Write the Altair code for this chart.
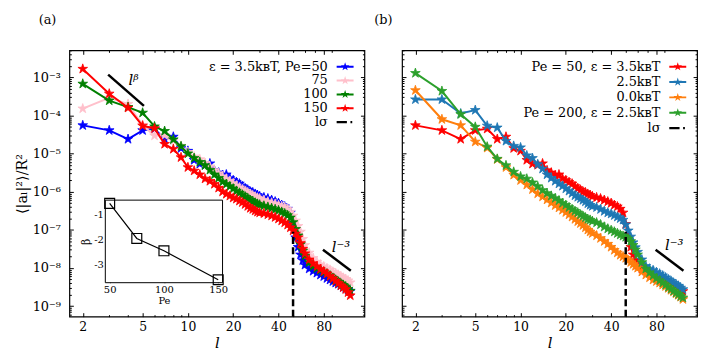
import altair as alt
import pandas as pd

FONT = "DejaVu Serif"

# ---------------- data (log10 of <|a_l|^2>/R^2) ----------------
L = [2, 3, 4, 5, 6, 7, 8, 9, 10, 11, 12, 13, 14, 15, 16, 17, 18, 19, 20, 21, 22, 23, 24, 25, 26, 27, 28, 29, 30,
     32, 34, 36, 38, 40, 42, 44, 46, 48, 50, 52, 54, 56, 58, 60,
     64, 68, 72, 76, 80, 84, 88, 92, 96, 100, 104, 108, 112, 116, 120]

PE50_E35 = [-4.26, -4.39, -4.62, -4.39, -4.35, -4.62, -4.56, -4.86, -4.93, -5.17, -5.27, -5.30, -5.26, -5.44, -5.50,
            -5.57, -5.55, -5.65, -5.70, -5.75, -5.79, -5.86, -5.91, -5.95, -6.00, -6.02, -6.06, -6.09, -6.12,
            -6.15, -6.18, -6.22, -6.26, -6.30, -6.35, -6.39, -6.45, -6.55, -6.85, -7.20, -7.45, -7.65, -7.80, -7.92,
            -8.02, -8.08, -8.13, -8.18, -8.22, -8.27, -8.31, -8.35, -8.39, -8.42, -8.46, -8.50, -8.53, -8.57, -8.61]
PE75_E35 = [-3.82, -3.54, -3.70, -4.25, -4.53, -4.52, -4.66, -4.80, -4.96, -5.08, -5.15, -5.25, -5.34, -5.44, -5.52,
            -5.60, -5.66, -5.72, -5.78, -5.84, -5.89, -5.94, -5.98, -6.02, -6.06, -6.10, -6.13, -6.16, -6.18,
            -6.22, -6.26, -6.29, -6.32, -6.35, -6.38, -6.41, -6.46, -6.53, -6.63, -6.76, -6.90, -7.05, -7.24, -7.40,
            -7.60, -7.74, -7.84, -7.91, -7.96, -8.01, -8.05, -8.10, -8.14, -8.18, -8.22, -8.26, -8.29, -8.33, -8.38]
PE100_E35 = [-3.17, -3.61, -3.78, -3.93, -4.29, -4.41, -4.63, -4.81, -5.00, -5.12, -5.22, -5.31, -5.43, -5.55, -5.64,
             -5.74, -5.80, -5.86, -5.92, -5.98, -6.03, -6.08, -6.13, -6.17, -6.22, -6.25, -6.29, -6.32, -6.34,
             -6.37, -6.40, -6.43, -6.46, -6.49, -6.53, -6.57, -6.62, -6.68, -6.80, -6.98, -7.15, -7.38, -7.55, -7.68,
             -7.85, -7.95, -8.01, -8.06, -8.11, -8.15, -8.20, -8.26, -8.31, -8.36, -8.41, -8.45, -8.49, -8.55, -8.60]
PE150_E35 = [-2.78, -3.43, -3.80, -4.27, -4.34, -4.75, -4.88, -5.10, -5.36, -5.45, -5.55, -5.66, -5.72, -5.80, -5.90,
             -6.00, -6.06, -6.11, -6.16, -6.19, -6.24, -6.28, -6.33, -6.38, -6.43, -6.46, -6.50, -6.53, -6.55,
             -6.57, -6.60, -6.63, -6.67, -6.71, -6.76, -6.81, -6.87, -6.94, -7.02, -7.10, -7.20, -7.35, -7.50, -7.62,
             -7.78, -7.88, -7.96, -8.03, -8.09, -8.15, -8.22, -8.28, -8.34, -8.40, -8.46, -8.51, -8.56, -8.64, -8.72]
PE50_E25 = [-3.58, -3.58, -3.95, -3.86, -4.27, -4.32, -4.67, -4.80, -4.84, -5.05, -5.12, -5.28, -5.40, -5.55, -5.64,
            -5.72, -5.79, -5.85, -5.92, -5.98, -6.04, -6.10, -6.14, -6.18, -6.22, -6.26, -6.31, -6.35, -6.38,
            -6.41, -6.46, -6.51, -6.55, -6.58, -6.62, -6.66, -6.70, -6.74, -6.86, -7.02, -7.18, -7.33, -7.46, -7.58,
            -7.78, -7.95, -8.02, -8.06, -8.11, -8.15, -8.20, -8.25, -8.30, -8.34, -8.39, -8.43, -8.47, -8.52, -8.56]
PE50_E00 = [-3.34, -4.10, -4.26, -4.69, -4.85, -5.15, -5.36, -5.56, -5.70, -5.82, -5.94, -6.05, -6.13, -6.21, -6.29,
            -6.36, -6.42, -6.48, -6.54, -6.60, -6.66, -6.72, -6.78, -6.83, -6.88, -6.94, -7.00, -7.05, -7.09,
            -7.15, -7.22, -7.30, -7.37, -7.45, -7.53, -7.60, -7.66, -7.70, -7.74, -7.80, -7.85, -7.90, -7.95, -8.00,
            -8.10, -8.18, -8.25, -8.31, -8.35, -8.39, -8.44, -8.48, -8.53, -8.58, -8.62, -8.67, -8.71, -8.76, -8.82]
PE200_E25 = [-2.89, -3.36, -3.97, -4.30, -4.82, -5.14, -5.31, -5.48, -5.60, -5.66, -5.76, -5.86, -5.96, -6.04, -6.11,
             -6.17, -6.23, -6.30, -6.35, -6.41, -6.46, -6.51, -6.55, -6.60, -6.64, -6.68, -6.72, -6.74, -6.77,
             -6.81, -6.86, -6.92, -6.97, -7.01, -7.05, -7.09, -7.13, -7.16, -7.19, -7.24, -7.30, -7.40, -7.52, -7.65,
             -7.85, -8.02, -8.12, -8.20, -8.27, -8.33, -8.39, -8.44, -8.50, -8.55, -8.60, -8.65, -8.69, -8.74, -8.78]

INSET_PE = [50, 75, 100, 150]
INSET_BETA = [-0.53, -1.95, -2.45, -3.62]

L_SIGMA = 50
L_SIGMA_TOP = -7.05           # log10 of top end of dashed line

REF_BETA_L = [2.95, 5.1]
REF_BETA_E = [-2.93, -3.75]
REF_M3_L = [79, 121]
REF_M3_E = [-7.52, -8.07]

TXT_A = [("lᵝ", 4.36, -3.07), ("l⁻³", 104, -7.44)]
TXT_B = [("l⁻³", 105, -7.40)]

LEG_A = ["ε = 3.5kʙT, Pe=50", "75", "100", "150", "lσ"]
COL_A = ["#0000ff", "#ffc0cb", "#008000", "#ff0000", "#000000"]
LEG_B = ["Pe = 50, ε = 3.5kʙT", "2.5kʙT", "0.0kʙT", "Pe = 200, ε = 2.5kʙT", "lσ"]
COL_B = ["#ff0000", "#1f77b4", "#ff7f0e", "#2ca02c", "#000000"]

# ---------------- styling / layout ----------------
W, H = 298, 269
XDOM = [1.63, 149.0]
YDOM = [5.3e-10, 5.1e-3]
XMAJ = [2, 5, 10, 20, 40, 80]
XMIN = [3, 4, 6, 7, 8, 9, 30, 50, 60, 70, 90]
YMAJ = [10.0 ** e for e in range(-9, -2)]
YMIN = [k * 10.0 ** e for e in range(-10, -2) for k in range(2, 10) if YDOM[0] <= k * 10.0 ** e <= YDOM[1]]
YLAB = "['10⁻⁹','10⁻⁸','10⁻⁷','10⁻⁶','10⁻⁵','10⁻⁴','10⁻³'][round(log(datum.value)/LN10)+9]"

STAR = ("M0,-1L0.2245,-0.309L0.951,-0.309L0.363,0.118L0.588,0.809L0,0.382"
        "L-0.588,0.809L-0.363,0.118L-0.951,-0.309L-0.2245,-0.309Z")
LEG_STAR = "M-1.9,-0.22H1.9V0.22H-1.9Z" + STAR
LEG_DASH = "M-1.9,-0.25H0.4V0.25H-1.9ZM1.2,-0.25H1.6V0.25H1.2Z"
LEG_SHAPES = [LEG_STAR, LEG_STAR, LEG_STAR, LEG_STAR, LEG_DASH]


def xaxis(orient, major, labels=False, title=None):
    t = 4 if major else 2
    kw = dict(orient=orient, values=XMAJ if major else XMIN, tickSize=t, offset=-t, domain=False, grid=False,
              labels=labels, ticks=True, tickWidth=1, tickColor="black", labelFlush=False, labelOverlap=False)
    if labels:
        kw.update(labelExpr="''+datum.value", labelFont=FONT, labelFontSize=12.5, labelPadding=4, labelColor="black")
    if title:
        kw.update(title=title, titleFont=FONT, titleFontSize=15, titleFontStyle="italic", titleFontWeight="normal",
                  titlePadding=3, titleColor="black")
    else:
        kw["title"] = None
    return alt.Axis(**kw)


def yaxis(orient, major, labels=False, title=None):
    t = 4 if major else 2
    kw = dict(orient=orient, values=YMAJ if major else YMIN, tickSize=t, offset=-t, domain=False, grid=False,
              labels=labels, ticks=True, tickWidth=1, tickColor="black", labelFlush=False, labelOverlap=False)
    if labels:
        kw.update(labelExpr=YLAB, labelFont=FONT, labelFontSize=13, labelPadding=9, labelColor="black")
    if title:
        kw.update(title=title, titleFont=FONT, titleFontSize=14.5, titleFontWeight="normal", titlePadding=3,
                  titleColor="black")
    else:
        kw["title"] = None
    return alt.Axis(**kw)


def X(field, axis=None):
    return alt.X(field, type="quantitative", scale=alt.Scale(type="log", domain=XDOM, nice=False), axis=axis)


def Y(field, axis=None):
    return alt.Y(field, type="quantitative", scale=alt.Scale(type="log", domain=YDOM, nice=False), axis=axis)


def sdf(vals):
    return pd.DataFrame({"l": L, "v": [10.0 ** e for e in vals]})


def panel(series, colors, labels, title, dx, ylabels, texts, inset):
    layers = []
    for i, (vals, color) in enumerate(zip(series, colors)):
        df = sdf(vals)
        if i == 0:
            al = (xaxis("bottom", True, True, "l"),
                  yaxis("left", True, ylabels, "⟨|aₗ|²⟩/R²" if ylabels else None))
            ap = (xaxis("bottom", False), yaxis("left", False))
        elif i == 1:
            al = (xaxis("top", True), yaxis("right", True))
            ap = (xaxis("top", False), yaxis("right", False))
        else:
            al = ap = (None, None)
        layers.append(alt.Chart(df).mark_line(color=color, strokeWidth=2)
                      .encode(x=X("l", al[0]), y=Y("v", al[1])))
        layers.append(alt.Chart(df).mark_point(shape=STAR, filled=True, size=105, fill=color, stroke=color,
                                               strokeWidth=0.8, opacity=1)
                      .encode(x=X("l", ap[0]), y=Y("v", ap[1])))

    # l_sigma dashed line
    ls = pd.DataFrame({"l": [L_SIGMA], "v0": [YDOM[0]], "v1": [10.0 ** L_SIGMA_TOP]})
    layers.append(alt.Chart(ls).mark_rule(color="black", strokeWidth=2.5, strokeDash=[7, 3.5])
                  .encode(x=X("l"), y=Y("v0"), y2="v1"))

    # reference power-law segments
    segs = [("m3", REF_M3_L, REF_M3_E)]
    if inset:
        segs.append(("beta", REF_BETA_L, REF_BETA_E))
    rows = []
    for name, ls_, es in segs:
        for l_, e in zip(ls_, es):
            rows.append({"seg": name, "l": l_, "v": 10.0 ** e})
    layers.append(alt.Chart(pd.DataFrame(rows)).mark_line(color="black", strokeWidth=2.5)
                  .encode(x=X("l"), y=Y("v"), detail="seg:N"))

    tdf = pd.DataFrame({"t": [t[0] for t in texts], "l": [t[1] for t in texts], "v": [10.0 ** t[2] for t in texts]})
    layers.append(alt.Chart(tdf).mark_text(font=FONT, fontSize=15, fontStyle="italic", color="black")
                  .encode(x=X("l"), y=Y("v"), text="t:N"))

    # legend carrier layer (invisible marks)
    first = [10.0 ** s[0] for s in series] + [10.0 ** L_SIGMA_TOP]
    ldf = pd.DataFrame({"label": labels, "l": [2] * len(series) + [L_SIGMA], "v": first})
    leg = alt.Legend(title=None, orient="top-right", offset=10, padding=0, labelFont=FONT, labelFontSize=13,
                     labelAlign="right", labelOffset={"expr": "-24"}, labelLimit=400, symbolSize=81,
                     symbolOpacity=1, symbolStrokeWidth=0, rowPadding={"expr": "-2" if inset else "1.5"},
                     labelColor="black")
    layers.append(alt.Chart(ldf).mark_point(filled=True, opacity=0, size=81)
                  .encode(x=X("l"), y=Y("v"),
                          color=alt.Color("label:N", scale=alt.Scale(domain=labels, range=colors), legend=leg),
                          shape=alt.Shape("label:N", scale=alt.Scale(domain=labels, range=LEG_SHAPES), legend=leg)))

    if inset:
        ix0, ix1, iy0, iy1 = 36.3, 154.7, 234.7, 151.3
        IX = alt.Scale(domain=[46, 154], range=[ix0, ix1], nice=False, zero=False)
        IY = alt.Scale(domain=[-3.74, -0.4], range=[iy0, iy1], nice=False, zero=False)
        fr = pd.DataFrame({"x0": [46], "x1": [154], "y0": [-3.74], "y1": [-0.4]})
        layers.append(alt.Chart(fr).mark_rect(fill="white", stroke="black", strokeWidth=1)
                      .encode(x=alt.X("x0:Q", scale=IX, axis=None), x2="x1",
                              y=alt.Y("y0:Q", scale=IY, axis=None), y2="y1"))
        idf = pd.DataFrame({"pe": INSET_PE, "beta": INSET_BETA})
        iax_x = alt.Axis(orient="bottom", values=[50, 100, 150], offset=-(H - iy0) - 3, tickSize=3, domain=False,
                         grid=False, labelFont=FONT, labelFontSize=10, labelPadding=2, labelFlush=False,
                         labelExpr="''+datum.value", labelColor="black", tickColor="black",
                         title="Pe", titleFont=FONT, titleFontSize=10, titleFontWeight="normal", titlePadding=1,
                         titleColor="black")
        iax_y = alt.Axis(orient="left", values=[-1, -2, -3], offset=-ix0 - 3, tickSize=3, domain=False,
                         grid=False, labelFont=FONT, labelFontSize=10, labelPadding=2, labelFlush=False,
                         labelExpr="''+datum.value", labelColor="black", tickColor="black",
                         title="β", titleFont=FONT, titleFontSize=11, titleFontWeight="normal", titlePadding=2,
                         titleColor="black")
        layers.append(alt.Chart(idf).mark_line(color="black", strokeWidth=1.2)
                      .encode(x=alt.X("pe:Q", scale=IX, axis=iax_x), y=alt.Y("beta:Q", scale=IY, axis=iax_y)))
        layers.append(alt.Chart(idf).mark_point(shape="square", filled=False, size=100, color="black",
                                                strokeWidth=1.2, opacity=1)
                      .encode(x=alt.X("pe:Q", scale=IX, axis=None), y=alt.Y("beta:Q", scale=IY, axis=None)))

    return (alt.layer(*layers)
            .resolve_scale(x="independent", y="independent")
            .properties(width=W, height=H,
                        title=alt.TitleParams(text=title, anchor="start", frame="group", dx=dx, offset=23,
                                              fontSize=13, font=FONT, fontWeight="normal", color="black")))


pa = panel([PE50_E35, PE75_E35, PE100_E35, PE150_E35], COL_A, LEG_A, "(a)", -31, True, TXT_A, True)
pb = panel([PE50_E35, PE50_E25, PE50_E00, PE200_E25], COL_B, LEG_B, "(b)", -28, False, TXT_B, False)

chart = (alt.hconcat(pa, pb, spacing=38, bounds="flush")
         .resolve_scale(x="independent", y="independent", color="independent", shape="independent")
         .properties(padding={"left": 5, "top": 3, "right": 5, "bottom": 5})
         .configure(font=FONT)
         .configure_view(stroke="black", strokeWidth=1.2))

chart.save("out.html", embed_options={"renderer": "svg", "actions": False})
